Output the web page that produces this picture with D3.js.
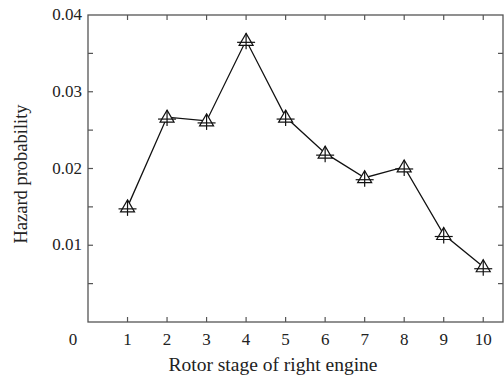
<!DOCTYPE html>
<html>
<head>
<meta charset="utf-8">
<script src="https://cdn.jsdelivr.net/npm/d3@7"></script>
<style>
body { margin: 0; background: #fff; }
text { font-family: "Liberation Serif", "Times New Roman", serif; fill: #222; }
</style>
</head>
<body>
<script>
var stages = [1, 2, 3, 4, 5, 6, 7, 8, 9, 10];
var hazard = [0.0150, 0.0267, 0.0262, 0.0367, 0.0267, 0.0220, 0.0188, 0.0202, 0.0114, 0.0072];
var yTickLabels = [0.01, 0.02, 0.03, 0.04];
var yMinorTicks = [0.005, 0.01, 0.015, 0.02, 0.025, 0.03, 0.035];

var width = 504, height = 378;
// note: "top" is a reserved window global, so use plot* names
var plotLeft = 88, plotRight = 503, plotTop = 15, plotBottom = 322;
var axisColor = "#555";

var svg = d3.select('body').append('svg')
        .attr('width', width)
        .attr('height', height);

var x = d3.scaleLinear().domain([0, 10.5]).range([plotLeft, plotRight]);
var y = d3.scaleLinear().domain([0, 0.04]).range([plotBottom, plotTop]);

// frame
svg.append('rect')
        .attr('x', plotLeft)
        .attr('y', plotTop)
        .attr('width', plotRight - plotLeft)
        .attr('height', plotBottom - plotTop)
        .attr('fill', 'none')
        .attr('stroke', axisColor)
        .attr('stroke-width', 1.3);

// x ticks, bottom and top, pointing in
var tickLen = 5;
stages.forEach(function(s) {
    svg.append('line')
        .attr('x1', x(s)).attr('x2', x(s))
        .attr('y1', plotBottom).attr('y2', plotBottom - tickLen)
        .attr('stroke', axisColor).attr('stroke-width', 1.2);
    svg.append('line')
        .attr('x1', x(s)).attr('x2', x(s))
        .attr('y1', plotTop).attr('y2', plotTop + tickLen)
        .attr('stroke', axisColor).attr('stroke-width', 1.2);
    svg.append('text')
        .text(s)
        .attr('x', x(s))
        .attr('y', plotBottom + 23)
        .attr('text-anchor', 'middle')
        .attr('font-size', 17);
});

// y ticks, left and right
yMinorTicks.forEach(function(v) {
    svg.append('line')
        .attr('x1', plotLeft).attr('x2', plotLeft + tickLen)
        .attr('y1', y(v)).attr('y2', y(v))
        .attr('stroke', axisColor).attr('stroke-width', 1.2);
    svg.append('line')
        .attr('x1', plotRight).attr('x2', plotRight - tickLen)
        .attr('y1', y(v)).attr('y2', y(v))
        .attr('stroke', axisColor).attr('stroke-width', 1.2);
});

yTickLabels.forEach(function(v) {
    svg.append('text')
        .text(d3.format('.2f')(v))
        .attr('x', plotLeft - 6)
        .attr('y', y(v) + 5)
        .attr('text-anchor', 'end')
        .attr('font-size', 17);
});

// origin label
svg.append('text')
        .text('0')
        .attr('x', 73)
        .attr('y', plotBottom + 23)
        .attr('text-anchor', 'middle')
        .attr('font-size', 17);

// axis titles
svg.append('text')
        .text('Rotor stage of right engine')
        .attr('x', 273)
        .attr('y', 371)
        .attr('text-anchor', 'middle')
        .attr('font-size', 19.5);

svg.append('text')
        .text('Hazard probability')
        .attr('text-anchor', 'middle')
        .attr('font-size', 18.5)
        .attr('transform', 'translate(27,174) rotate(-90)');

// data line
var pts = stages.map(function(s, i) { return {s: s, v: hazard[i]}; });
var lineFunc = d3.line()
        .x(function(d) { return x(d.s); })
        .y(function(d) { return y(d.v); });

svg.append('path')
        .attr('d', lineFunc(pts))
        .attr('fill', 'none')
        .attr('stroke', '#111')
        .attr('stroke-width', 1.3);

// markers: triangle with cross
var m = svg.selectAll('g.mark').data(pts).enter().append('g')
        .attr('class', 'mark')
        .attr('transform', function(d) { return 'translate(' + x(d.s) + ',' + y(d.v) + ')'; });

m.append('path')
        .attr('d', 'M0,-7 L7,5 L-7,5 Z')
        .attr('fill', '#fff')
        .attr('stroke', '#111')
        .attr('stroke-width', 1.2);
m.append('line')
        .attr('x1', -9).attr('x2', 9)
        .attr('y1', 2).attr('y2', 2)
        .attr('stroke', '#111').attr('stroke-width', 1.2);
m.append('line')
        .attr('x1', 0).attr('x2', 0)
        .attr('y1', -7).attr('y2', 9)
        .attr('stroke', '#111').attr('stroke-width', 1.2);
</script>
</body>
</html>
